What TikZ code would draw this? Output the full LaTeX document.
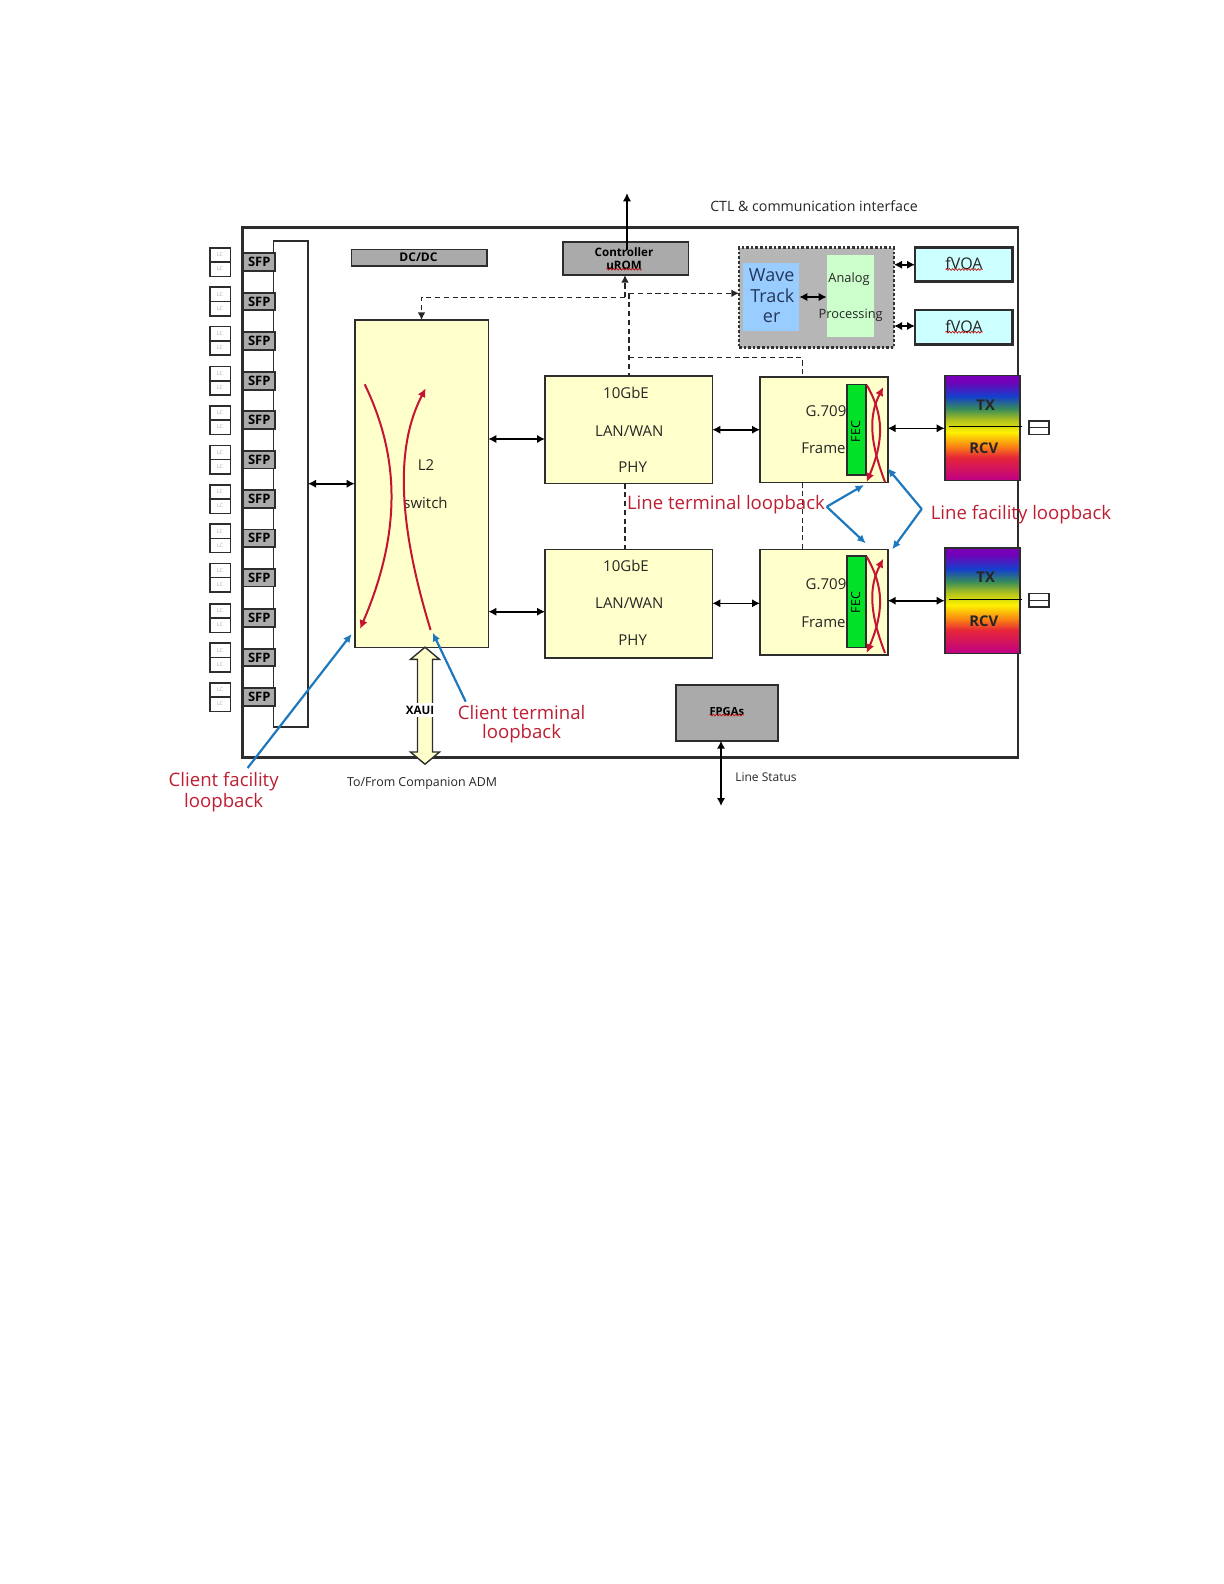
\documentclass[tikz,border=0pt]{standalone}
\usepackage{fontspec}
\setmainfont{Open Sans}
\usetikzlibrary{arrows.meta,shapes.arrows,decorations.pathmorphing}
\definecolor{paleyellow}{RGB}{255,255,204}
\definecolor{boxgray}{RGB}{170,170,170}
\definecolor{wavegray}{RGB}{182,182,182}
\definecolor{waveblue}{RGB}{153,204,255}
\definecolor{wavetext}{RGB}{35,55,90}
\definecolor{palegreen}{RGB}{204,255,204}
\definecolor{palecyan}{RGB}{204,255,255}
\definecolor{fecgreen}{RGB}{0,225,40}
\definecolor{loopred}{RGB}{196,20,50}
\definecolor{labelred}{RGB}{190,30,50}
\definecolor{loopblue}{RGB}{30,120,190}
\definecolor{framegray}{RGB}{45,45,45}
\pgfdeclareverticalshading{rainbowfill}{100bp}{
 rgb(0bp)=(0.75,0,0.52); rgb(25bp)=(0.75,0,0.52);
 rgb(36bp)=(0.90,0.15,0.22); rgb(41bp)=(0.98,0.50,0.08);
 rgb(48bp)=(1,0.95,0); rgb(54bp)=(0.67,0.75,0.12);
 rgb(59bp)=(0.22,0.55,0.35); rgb(65bp)=(0.08,0.25,0.80);
 rgb(72bp)=(0.45,0,0.72); rgb(75bp)=(0.47,0,0.72); rgb(100bp)=(0.47,0,0.72)}
\tikzset{
 x=0.5pt,y=-0.5pt,
 block/.style={draw=framegray,line width=0.8pt,inner sep=0pt,outer sep=0pt,rectangle},
 yellowblock/.style={block,fill=paleyellow},
 grayblock/.style={block,fill=boxgray},
 thickgray/.style={block,fill=boxgray,line width=.9pt},
 lcbox/.style={block,fill=white},
 fecblock/.style={block,fill=fecgreen},
 wavegroup/.style={block,fill=wavegray,draw=black!80,line width=1.3pt,densely dotted},
 waveblock/.style={rectangle,fill=waveblue,inner sep=0pt,outer sep=0pt},
 analogblock/.style={rectangle,fill=palegreen,inner sep=0pt,outer sep=0pt},
 voablock/.style={block,fill=palecyan,line width=1.3pt},
 rainbowblock/.style={block,shading=rainbowfill},
 lbl/.style={inner sep=0pt,outer sep=0pt,text=black!85},
 sz/.style={font=\fontsize{#1}{#1}\selectfont},
 redlbl/.style={lbl,text=labelred,sz=9.3},
 biarrow/.style={{Latex[length=4pt,width=4.2pt]}-{Latex[length=4pt,width=4.2pt]},line width=.8pt,black},
 onearrow/.style={-{Latex[length=4.2pt,width=4.2pt]},line width=.8pt,black},
 dashline/.style={dash pattern=on 2.6pt off 1.8pt,line width=.65pt,black!85},
 redcurve/.style={loopred,line width=1pt},
 redtip/.style={redcurve,-{Latex[length=4.4pt,width=4.2pt]}},
 bluearrow/.style={loopblue,line width=1.1pt,-{Latex[length=4.2pt,width=4pt]}},
 squiggle/.style={draw=red!75!black,line width=.3pt,decorate,decoration={zigzag,amplitude=.45pt,segment length=1.6pt}},
}
\newcommand\bx[7]{\node[#6,minimum width={((#4)-(#2))*0.5pt},minimum height={((#5)-(#3))*0.5pt}] (#1) at ({((#2)+(#4))/2},{((#3)+(#5))/2}) {#7};}
\newcommand\tx[5]{\node[lbl,#4] (#1) at (#2,#3) {#5};}
\begin{document}
\begin{tikzpicture}
\useasboundingbox (0,0) rectangle (1224,1584);
% main frame
\bx{frame}{242.7}{227.7}{1018}{757.5}{block,draw=framegray,line width=1.4pt}{}
% client bar
\bx{bar}{273.3}{240.7}{308}{726.7}{block,fill=white}{}
% SFP and LC columns
\foreach \i/\cy in {1/262,2/301.5,3/340.8,4/380.8,5/420,6/459.7,7/499,8/538.3,9/577.7,10/618,11/657.5,12/697}{
 \bx{sfp\i}{243.3}{\cy-8.8}{275.3}{\cy+8.8}{thickgray}{}
 \node[lbl,font=\bfseries\fontsize{6.5}{6.5}\selectfont,text=black] (sfplabel\i) at (259.3,\cy) {SFP};
 \bx{lc\i}{210}{\cy-14.3}{230.3}{\cy+14.3}{lcbox}{}
 \draw[framegray,line width=.7pt] (lc\i.west) -- (lc\i.east);
 \node[lbl,text=black!35,font=\fontsize{2.6}{3}\selectfont] (lcupper\i) at (220,\cy-7) {LC};
 \node[lbl,text=black!35,font=\fontsize{2.6}{3}\selectfont] (lclower\i) at (220,\cy+7) {LC};
}
% DC/DC, controller
\bx{dcdc}{351.3}{249.3}{486.7}{266}{grayblock}{}
\tx{dcdctext}{418.5}{257.7}{font=\bfseries\fontsize{6}{6}\selectfont,text=black}{DC/DC}
\bx{ctrl}{562.7}{241.7}{688.3}{275}{grayblock}{}
\tx{ctrltext}{624}{251.7}{font=\bfseries\fontsize{5.8}{6}\selectfont,text=black}{Controller}
\tx{uromtext}{624}{265}{font=\bfseries\fontsize{5.8}{6}\selectfont,text=black}{uROM}
\draw[squiggle] (uromtext.south west) -- (uromtext.south east);
% wave tracker group
\bx{wgroup}{739}{247.7}{894}{347.7}{wavegroup}{}
\bx{wave}{743.3}{262.7}{799.3}{330.7}{waveblock}{}
\bx{analog}{826.7}{255}{874}{337.3}{analogblock}{}
\tx{wave1}{771.7}{275}{sz=9,text=wavetext}{Wave}
\tx{wave2}{772.3}{296}{sz=9,text=wavetext}{Track}
\tx{wave3}{771.7}{318}{sz=9,text=wavetext}{er}
\tx{analog1}{849}{279.5}{sz=6.4}{Analog}
\tx{analog2}{850.7}{315.5}{sz=6.4}{Processing}
\bx{voaA}{915}{247.7}{1012.7}{281.7}{voablock}{}
\bx{voaB}{915}{310}{1012.7}{344.3}{voablock}{}
\tx{voaAtext}{964}{263.3}{sz=8}{fVOA}
\tx{voaBtext}{964}{326}{sz=8}{fVOA}
\draw[squiggle] (voaAtext.south west) -- (voaAtext.south east);
\draw[squiggle] (voaBtext.south west) -- (voaBtext.south east);
% L2 switch
\bx{ltwo}{354.7}{320}{488.3}{647.3}{yellowblock}{}
\tx{ltwotext}{426}{465}{sz=7.5}{L2}
\tx{switchtext}{425.5}{503}{sz=7.5}{switch}
% PHY
\bx{phyA}{545}{375.7}{712.3}{483.3}{yellowblock}{}
\bx{phyB}{545}{549.3}{712.3}{657.7}{yellowblock}{}
\tx{phyAa}{626}{392.7}{sz=7.5}{10GbE}
\tx{phyAb}{629.3}{430.7}{sz=7.5}{LAN/WAN}
\tx{phyAc}{632.7}{466.7}{sz=7.5}{PHY}
\tx{phyBa}{626}{565.7}{sz=7.5}{10GbE}
\tx{phyBb}{629.3}{603}{sz=7.5}{LAN/WAN}
\tx{phyBc}{632.7}{639.7}{sz=7.5}{PHY}
% G.709
\bx{gA}{760}{376.7}{887.7}{482.3}{yellowblock}{}
\bx{gB}{760}{549.3}{887.7}{654.7}{yellowblock}{}
\tx{gAa}{826}{411.5}{sz=7.5}{G.709}
\tx{gAb}{823.5}{448}{sz=7.5}{Frame}
\tx{gBa}{826}{584}{sz=7.5}{G.709}
\tx{gBb}{823.5}{622.5}{sz=7.5}{Frame}
\bx{fecA}{847}{384.3}{865.7}{474.7}{fecblock}{}
\bx{fecB}{847}{556}{865.7}{647.3}{fecblock}{}
\tx{fecAt}{855.7}{431.7}{rotate=90,sz=6.2,text=black}{FEC}
\tx{fecBt}{855.7}{602.7}{rotate=90,sz=6.2,text=black}{FEC}
% TX/RCV
\bx{trA}{944.7}{375.3}{1020}{480.3}{rainbowblock}{}
\bx{trB}{944.7}{548}{1020}{653.3}{rainbowblock}{}
\tx{txA}{985.7}{405}{font=\bfseries\fontsize{7.4}{7.4}\selectfont,text=black!85}{TX}
\tx{rcvA}{983.7}{448.3}{font=\bfseries\fontsize{7.4}{7.4}\selectfont,text=black!85}{RCV}
\tx{txB}{985.7}{577.7}{font=\bfseries\fontsize{7.4}{7.4}\selectfont,text=black!85}{TX}
\tx{rcvB}{983.7}{621}{font=\bfseries\fontsize{7.4}{7.4}\selectfont,text=black!85}{RCV}
\coordinate (splitAl) at (948.7,426.7); \coordinate (splitAr) at (1022,426.7);
\coordinate (splitBl) at (948.7,599.3); \coordinate (splitBr) at (1022,599.3);
\draw[black,line width=.6pt] (splitAl) -- (splitAr);
\draw[black,line width=.6pt] (splitBl) -- (splitBr);
\bx{portA}{1028.7}{420.7}{1048.7}{434.3}{lcbox}{}
\bx{portB}{1028.7}{593.3}{1048.7}{606.7}{lcbox}{}
\draw[framegray,line width=.5pt] (portA.west) -- (portA.east);
\draw[framegray,line width=.5pt] (portB.west) -- (portB.east);
% FPGAs
\bx{fpga}{676}{684.7}{778}{740.7}{thickgray}{}
\tx{fpgatext}{726.8}{711}{font=\bfseries\fontsize{5.6}{6}\selectfont,text=black}{FPGAs}
\draw[squiggle] (fpgatext.south west) -- (fpgatext.south east);
% XAUI
\node[double arrow,draw=framegray,fill=paleyellow,line width=.7pt,shape border rotate=90,minimum width=14pt,minimum height=58.5pt,inner sep=3.4pt,double arrow head extend=3.5pt,double arrow tip angle=100,outer sep=0pt] (xaui) at (425,705.7) {};
\tx{xauitext}{420}{710}{fill=white,font=\bfseries\fontsize{5.8}{6}\selectfont,text=black,inner ysep=1.5pt}{XAUI}
% free labels
\tx{ctl}{814}{206}{sz=7.1}{CTL \& communication interface}
\tx{tofrom}{422}{783.5}{sz=6.2}{To/From Companion ADM}
\tx{linestatus}{766}{777}{sz=6}{Line Status}
% connectors
\coordinate (ctlTop) at (627,193);
\coordinate (ctlIn) at (627,250);
\draw[onearrow] (ctlIn) -- (ctlTop);
\coordinate (statusEnd) at (721,806);
\draw[biarrow] (fpga.south -| statusEnd) -- (statusEnd);
\draw[biarrow] (bar.east |- 0,483.7) -- (ltwo.west |- 0,483.7);
\draw[biarrow] (ltwo.east |- 0,439) -- (phyA.west |- 0,439);
\draw[biarrow] (ltwo.east |- 0,611.7) -- (phyB.west |- 0,611.7);
\draw[biarrow] (phyA.east |- 0,429.7) -- (gA.west |- 0,429.7);
\draw[biarrow] (phyB.east |- 0,603.3) -- (gB.west |- 0,603.3);
\draw[biarrow] (gA.east |- 0,428.3) -- (trA.west |- 0,428.3);
\draw[biarrow] (gB.east |- 0,600.7) -- (trB.west |- 0,600.7);
\draw[biarrow] (wgroup.east |- 0,264.7) -- (voaA.west |- 0,264.7);
\draw[biarrow] (wgroup.east |- 0,326) -- (voaB.west |- 0,326);
\draw[biarrow] (wave.east |- 0,297) -- (analog.west |- 0,297);
% dashed control lines
\coordinate (busL) at (625,297.3);
\coordinate (busR) at (629,293.3);
\coordinate (busLow) at (629,357.7);
\coordinate (busLowR) at (802.3,357.7);
\draw[dashline,-{Latex[length=3.8pt,width=3.8pt]}] (busL) -| (ltwo.north);
\draw[dashline,-{Latex[length=3.8pt,width=3.8pt]}] (busL) -- (ctrl.south -| busL);
\draw[dashline,-{Latex[length=3.8pt,width=3.8pt]}] (busR) -- (wgroup.west |- busR);
\draw[dashline] (busR) -- (busLow) -- (phyA.north -| busLow);
\draw[dashline] (busLow) -- (busLowR) -- (gA.north -| busLowR);
\draw[dashline] (phyA.south -| busL) -- (phyB.north -| busL);
\draw[dashline] (gA.south -| busLowR) -- (gB.north -| busLowR);
% red loopbacks
\coordinate (sa) at (364.7,384.3); \coordinate (sb) at (360,629);
\coordinate (sc) at (430.6,630); \coordinate (sd) at (425.7,388.3);
\draw[redtip] (sa) .. controls (394,445) and (407,520) .. (sb);
\draw[redtip] (sc) .. controls (397,520) and (396,445) .. (sd);
\foreach \n/\t/\b in {A/385/482,B/556.7/653}{
 \coordinate (fa\n) at (866.7,\t); \coordinate (fb\n) at (866.7,\b);
 \coordinate (fc\n) at (885,\b); \coordinate (fd\n) at (883.3,\t+2);
 \draw[redtip] (fa\n) .. controls (884,{\t+30}) and (884,{\t+55}) .. (fb\n);
 \draw[redtip] (fc\n) .. controls (869,{\t+55}) and (869,{\t+30}) .. (fd\n);
}
% loopback labels and arrows
\tx{cfa}{223.7}{782}{redlbl}{Client facility}
\tx{cfb}{223.7}{802.5}{redlbl}{loopback}
\tx{cta}{521.6}{713}{redlbl}{Client terminal}
\tx{ctb}{521.6}{734}{redlbl}{loopback}
\tx{lta}{726}{505}{redlbl}{Line terminal loopback}
\tx{lfa}{1021}{514.5}{redlbl}{Line facility loopback}
\coordinate (cfFrom) at (247.6,768); \coordinate (cfTo) at (351.6,634);
\coordinate (ctFrom) at (465.7,701.7); \coordinate (ctTo) at (432.7,632.7);
\coordinate (ltApex) at (826.7,506.7); \coordinate (ltUp) at (864,485); \coordinate (ltDown) at (865.7,543.3);
\coordinate (lfApex) at (921.7,509); \coordinate (lfUp) at (887.7,468.3); \coordinate (lfDown) at (892.3,549.3);
\draw[bluearrow] (cfFrom) -- (cfTo);
\draw[bluearrow] (ctFrom) -- (ctTo);
\draw[bluearrow] (ltApex) -- (ltUp);
\draw[bluearrow] (ltApex) -- (ltDown);
\draw[bluearrow] (lfApex) -- (lfUp);
\draw[bluearrow] (lfApex) -- (lfDown);
\end{tikzpicture}
\end{document}
